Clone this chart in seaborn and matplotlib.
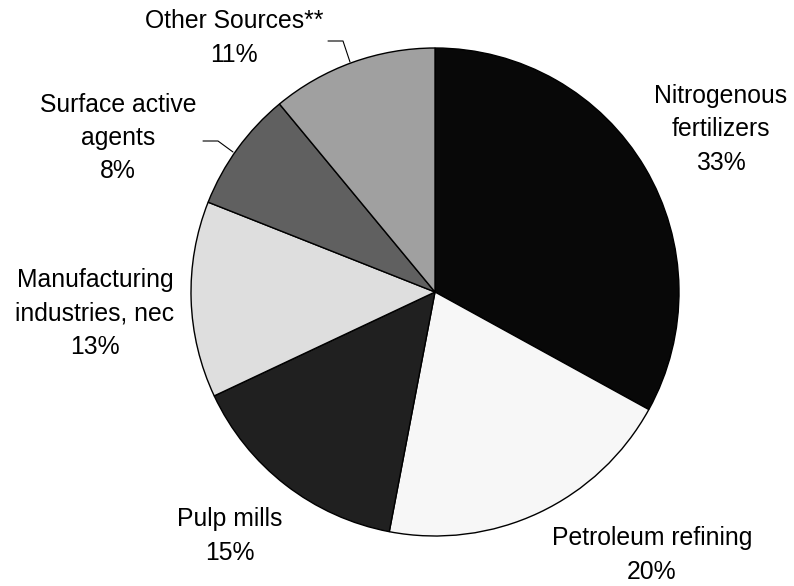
import matplotlib
matplotlib.use("Agg")
import matplotlib.pyplot as plt
import seaborn as sns

sns.set_theme(style="white")
plt.rcParams['font.family'] = ['Liberation Sans', 'DejaVu Sans']

categories = ["Nitrogenous\nfertilizers", "Petroleum refining", "Pulp mills",
              "Manufacturing\nindustries, nec", "Surface active\nagents", "Other Sources**"]
values = [33, 20, 15, 13, 8, 11]
colors = ["#080808", "#f7f7f7", "#202020", "#dedede", "#606060", "#a0a0a0"]

W, H = 794, 586
fig = plt.figure(figsize=(W / 100, H / 100), dpi=100)
ax = fig.add_axes([0, 0, 1, 1])

cx, cy, r = 435, H - 292, 244
ax.pie(values, colors=colors, startangle=90, counterclock=False,
       center=(cx, cy), radius=r, frame=True,
       wedgeprops=dict(edgecolor="black", linewidth=1.0))
ax.set_xlim(0, W)
ax.set_ylim(0, H)
ax.set_aspect("equal")
ax.axis("off")

# label positions in pixel coordinates (x, y from top)
label_pos = [(721, 129), (652, 555), (230, 536), (95, 313), (118, 138), (234, 38)]
for cat, val, (lx, ly) in zip(categories, values, label_pos):
    ax.text(lx, H - ly, f"{cat}\n{val}%", ha="center", va="center",
            fontsize=17.8, color="black", linespacing=1.5)

# leader lines
leaders = [
    [(328, 41), (343, 41), (350, 62)],
    [(203, 141), (218, 141), (233, 152)],
]
for pts in leaders:
    xs = [p[0] for p in pts]
    ys = [H - p[1] for p in pts]
    ax.plot(xs, ys, color="black", linewidth=0.8)

fig.savefig("out.png", dpi=100)
